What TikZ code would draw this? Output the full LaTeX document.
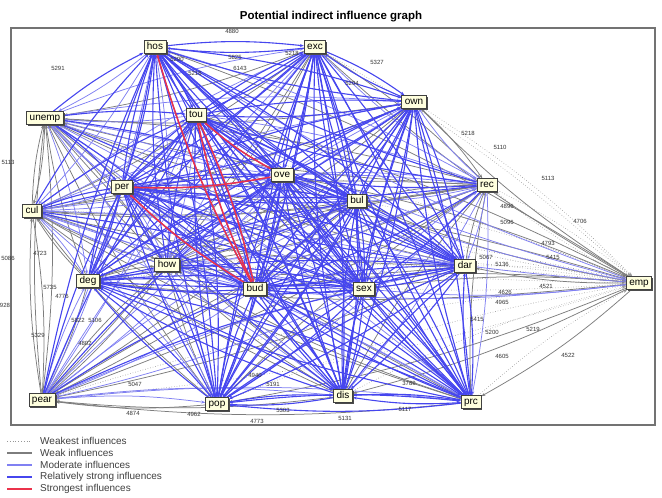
\documentclass[tikz,border=0pt]{standalone}
\usepackage{fontspec}
\setmainfont{Liberation Sans}
\usetikzlibrary{positioning,shadows,backgrounds,arrows.meta}

\definecolor{boxfill}{RGB}{255,255,222}
\definecolor{strongblue}{RGB}{70,70,238}
\definecolor{modblue}{RGB}{128,128,242}
\definecolor{weakgray}{RGB}{125,125,125}
\definecolor{redinf}{RGB}{235,50,75}

\tikzset{
    infgraph/.style={
        x=1pt, y=-1pt,
        % Stile per i fattori (riquadro con ombra)
        factor/.style={draw=black!75, fill=boxfill, rectangle, line width=0.8pt,
                       font=\fontsize{10}{10}\selectfont,
                       text height=7.5pt, text depth=2pt,
                       inner xsep=3pt, inner ysep=1.5pt,
                       drop shadow={shadow xshift=1.5pt, shadow yshift=-1.5pt,
                                    fill=black!70, opacity=1}},
        % Stile per i pesi sugli archi
        elabel/.style={font=\fontsize{6}{6}\selectfont, text=black!80,
                       inner sep=0pt},
        % Stile per la legenda
        legtext/.style={font=\fontsize{10}{12}\selectfont, text=black!75,
                        anchor=west, inner sep=0pt},
        % Stili per le influenze
        infl/.style={-{Stealth[length=4pt,width=3pt]}, bend left=6},
        weakest/.style={infl, weakgray!80, dotted, line width=0.6pt},
        weak/.style={infl, weakgray, line width=0.75pt},
        moderate/.style={infl, modblue, line width=0.75pt},
        relstrong/.style={infl, strongblue, line width=1.1pt},
        strongest/.style={infl, redinf, line width=1.5pt}
    }
}

% fattore/peso
\def\infnodes{hos/3,exc/2,own/2,unemp/1,tou/3,ove/3,rec/1,per/3,bul/2,cul/1,
dar/2,emp/0,how/1,deg/2,bud/3,sex/3,pear/1,pop/2,dis/2,prc/2}

\begin{document}
\begin{tikzpicture}[infgraph]
    \useasboundingbox (0,0) rectangle (662,498);

    \node[font=\bfseries\fontsize{11.5}{12}\selectfont] (title) at (331,17)
        {Potential indirect influence graph};
    \draw[black!55, line width=1.2pt] (11,28) rectangle (655,425);

    \node[factor] (hos)   at (155,47)  {hos};
    \node[factor] (exc)   at (315,47)  {exc};
    \node[factor] (own)   at (414,102) {own};
    \node[factor] (unemp) at (45,118)  {unemp};
    \node[factor] (tou)   at (196,115) {tou};
    \node[factor] (ove)   at (282,175) {ove};
    \node[factor] (rec)   at (487,185) {rec};
    \node[factor] (per)   at (122,187) {per};
    \node[factor] (bul)   at (357,201) {bul};
    \node[factor] (cul)   at (32,211)  {cul};
    \node[factor] (dar)   at (465,266) {dar};
    \node[factor] (emp)   at (639,283) {emp};
    \node[factor] (how)   at (167,265) {how};
    \node[factor] (deg)   at (88,281)  {deg};
    \node[factor] (bud)   at (255,289) {bud};
    \node[factor] (sex)   at (364,289) {sex};
    \node[factor] (pear)  at (42,400)  {pear};
    \node[factor] (pop)   at (217,404) {pop};
    \node[factor] (dis)   at (343,396) {dis};
    \node[factor] (prc)   at (471,402) {prc};

    \begin{scope}[on background layer]
        \foreach \lv/\sty in {1/weakest,2/weak,3/moderate,4/relstrong}{
            \foreach \a/\wa in \infnodes{
                \foreach \b/\wb in \infnodes{
                    \ifx\a\b\else
                        \pgfmathtruncatemacro\s{min(max(\wa+\wb-(\wa>\wb),1),4)}
                        \ifnum\s=\lv \draw[\sty] (\a) to (\b); \fi
                    \fi
                }
            }
        }
        \draw[strongest] (bud) to (hos);
        \draw[strongest] (bud) to (tou);
        \draw[strongest] (tou) to (bud);
        \draw[strongest] (ove) to (tou);
        \draw[strongest] (ove) to (per);
        \draw[strongest] (bud) to (per);
    \end{scope}

    \foreach \t/\px/\py [count=\k] in {4880/232/31,5825/235/57,5218/292/53,
        6143/240/68,5327/377/62,5204/352/83,5290/177/59,5216/195/73,5291/58/68,
        5113/8/162,5218/468/133,5110/500/147,5113/548/178,4706/580/221,
        4896/507/206,5096/507/222,4793/548/243,5415/553/257,5067/486/257,
        5136/502/264,4521/546/286,4626/505/292,4965/502/302,5415/477/319,
        5200/492/332,5219/533/329,4605/502/356,4522/568/355,5117/405/409,
        5131/345/418,3789/409/383,5303/283/410,4773/257/421,4962/194/414,
        4874/133/413,5047/135/384,5191/273/384,4940/255/375,5086/8/258,
        4723/40/253,5735/50/287,928/5/305,4776/62/296,5822/78/320,
        5106/95/320,5329/38/335,4802/85/343}
        \node[elabel] (el\k) at (\px,\py) {\t};

    \foreach \sty/\lw/\txt [count=\k] in {weakest/0.8pt/Weakest influences,
        weak/1.2pt/Weak influences, moderate/1.2pt/Moderate influences,
        relstrong/1.6pt/Relatively strong influences,
        strongest/1.6pt/Strongest influences}{
        \node[legtext] (leg\k) at (40,429+12*\k) {\txt};
        \draw[\sty, -, line width=\lw] ([xshift=-33pt]leg\k.west)
            -- ([xshift=-8pt]leg\k.west);
    }
\end{tikzpicture}
\end{document}
